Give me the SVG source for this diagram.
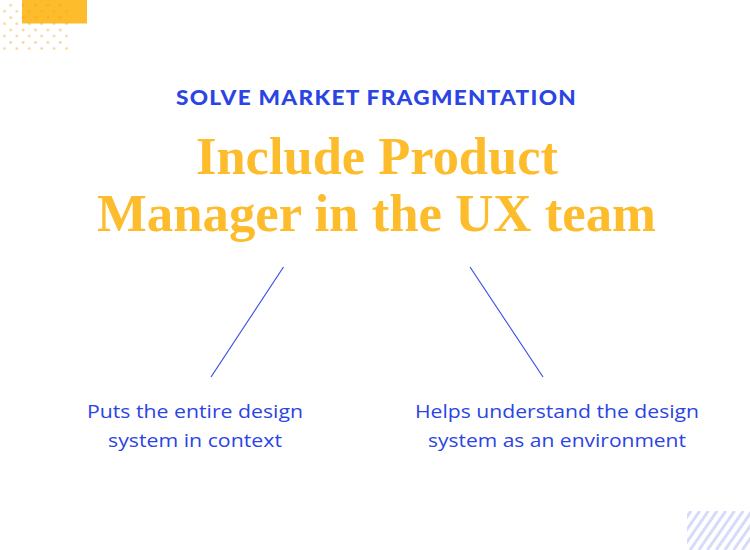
<svg xmlns="http://www.w3.org/2000/svg" width="750" height="550" viewBox="0 0 750 550">
<defs>
<style>
.kicker{font-family:Lato,"Liberation Sans",sans-serif;font-weight:900;font-size:21px;fill:#2b44e4;letter-spacing:1.2px}
.head{font-family:"Liberation Serif","DejaVu Serif",serif;font-weight:bold;font-size:52px;fill:#fdbc2c}
.lbl{font-family:"Open Sans","Liberation Sans",sans-serif;font-size:18.5px;fill:#2b44e4}
.conn{stroke:#3a4fe6;stroke-width:1.2;fill:none}
.dot{fill:#f0a020;opacity:0.45}
.stripe{stroke:#d7daf9;stroke-width:3}
</style>
<pattern id="dots" x="0" y="0" width="12.4" height="12.4" patternUnits="userSpaceOnUse">
<circle class="dot" cx="10.7" cy="5.3" r="1.4"/>
<circle class="dot" cx="4.5" cy="11.5" r="1.4"/>
</pattern>
<clipPath id="sc"><rect x="687" y="511" width="63" height="39"/></clipPath>
</defs>
<rect width="750" height="550" fill="#ffffff"/>
<g id="deco-top">
<rect x="22" y="0" width="65" height="23.5" fill="#fdbc2c"/>
<rect x="0" y="0" width="68" height="52" fill="url(#dots)"/>
</g>
<g id="deco-bottom" clip-path="url(#sc)">
<line class="stripe" x1="664" y1="550" x2="691" y2="511"/>
<line class="stripe" x1="672.7" y1="550" x2="699.7" y2="511"/>
<line class="stripe" x1="681.4" y1="550" x2="708.4" y2="511"/>
<line class="stripe" x1="690.1" y1="550" x2="717.1" y2="511"/>
<line class="stripe" x1="698.8" y1="550" x2="725.8" y2="511"/>
<line class="stripe" x1="707.5" y1="550" x2="734.5" y2="511"/>
<line class="stripe" x1="716.2" y1="550" x2="743.2" y2="511"/>
<line class="stripe" x1="724.9" y1="550" x2="751.9" y2="511"/>
<line class="stripe" x1="733.6" y1="550" x2="760.6" y2="511"/>
<line class="stripe" x1="742.3" y1="550" x2="769.3" y2="511"/>
</g>
<g id="title">
<text class="kicker" x="376.5" y="105" text-anchor="middle" textLength="401" lengthAdjust="spacingAndGlyphs">SOLVE MARKET FRAGMENTATION</text>
<text class="head" x="377" y="174" text-anchor="middle" textLength="362" lengthAdjust="spacingAndGlyphs">Include Product</text>
<text class="head" x="376.5" y="231" text-anchor="middle" textLength="559" lengthAdjust="spacingAndGlyphs">Manager in the UX team</text>
</g>
<g id="connectors">
<line class="conn" x1="283.5" y1="267" x2="211" y2="377"/>
<line class="conn" x1="470" y1="267" x2="543" y2="377"/>
</g>
<g id="node-left">
<text class="lbl" x="195" y="418" text-anchor="middle" textLength="216" lengthAdjust="spacingAndGlyphs">Puts the entire design</text>
<text class="lbl" x="195" y="447" text-anchor="middle" textLength="174" lengthAdjust="spacingAndGlyphs">system in context</text>
</g>
<g id="node-right">
<text class="lbl" x="557" y="418" text-anchor="middle" textLength="284" lengthAdjust="spacingAndGlyphs">Helps understand the design</text>
<text class="lbl" x="557" y="447" text-anchor="middle" textLength="258" lengthAdjust="spacingAndGlyphs">system as an environment</text>
</g>
</svg>
